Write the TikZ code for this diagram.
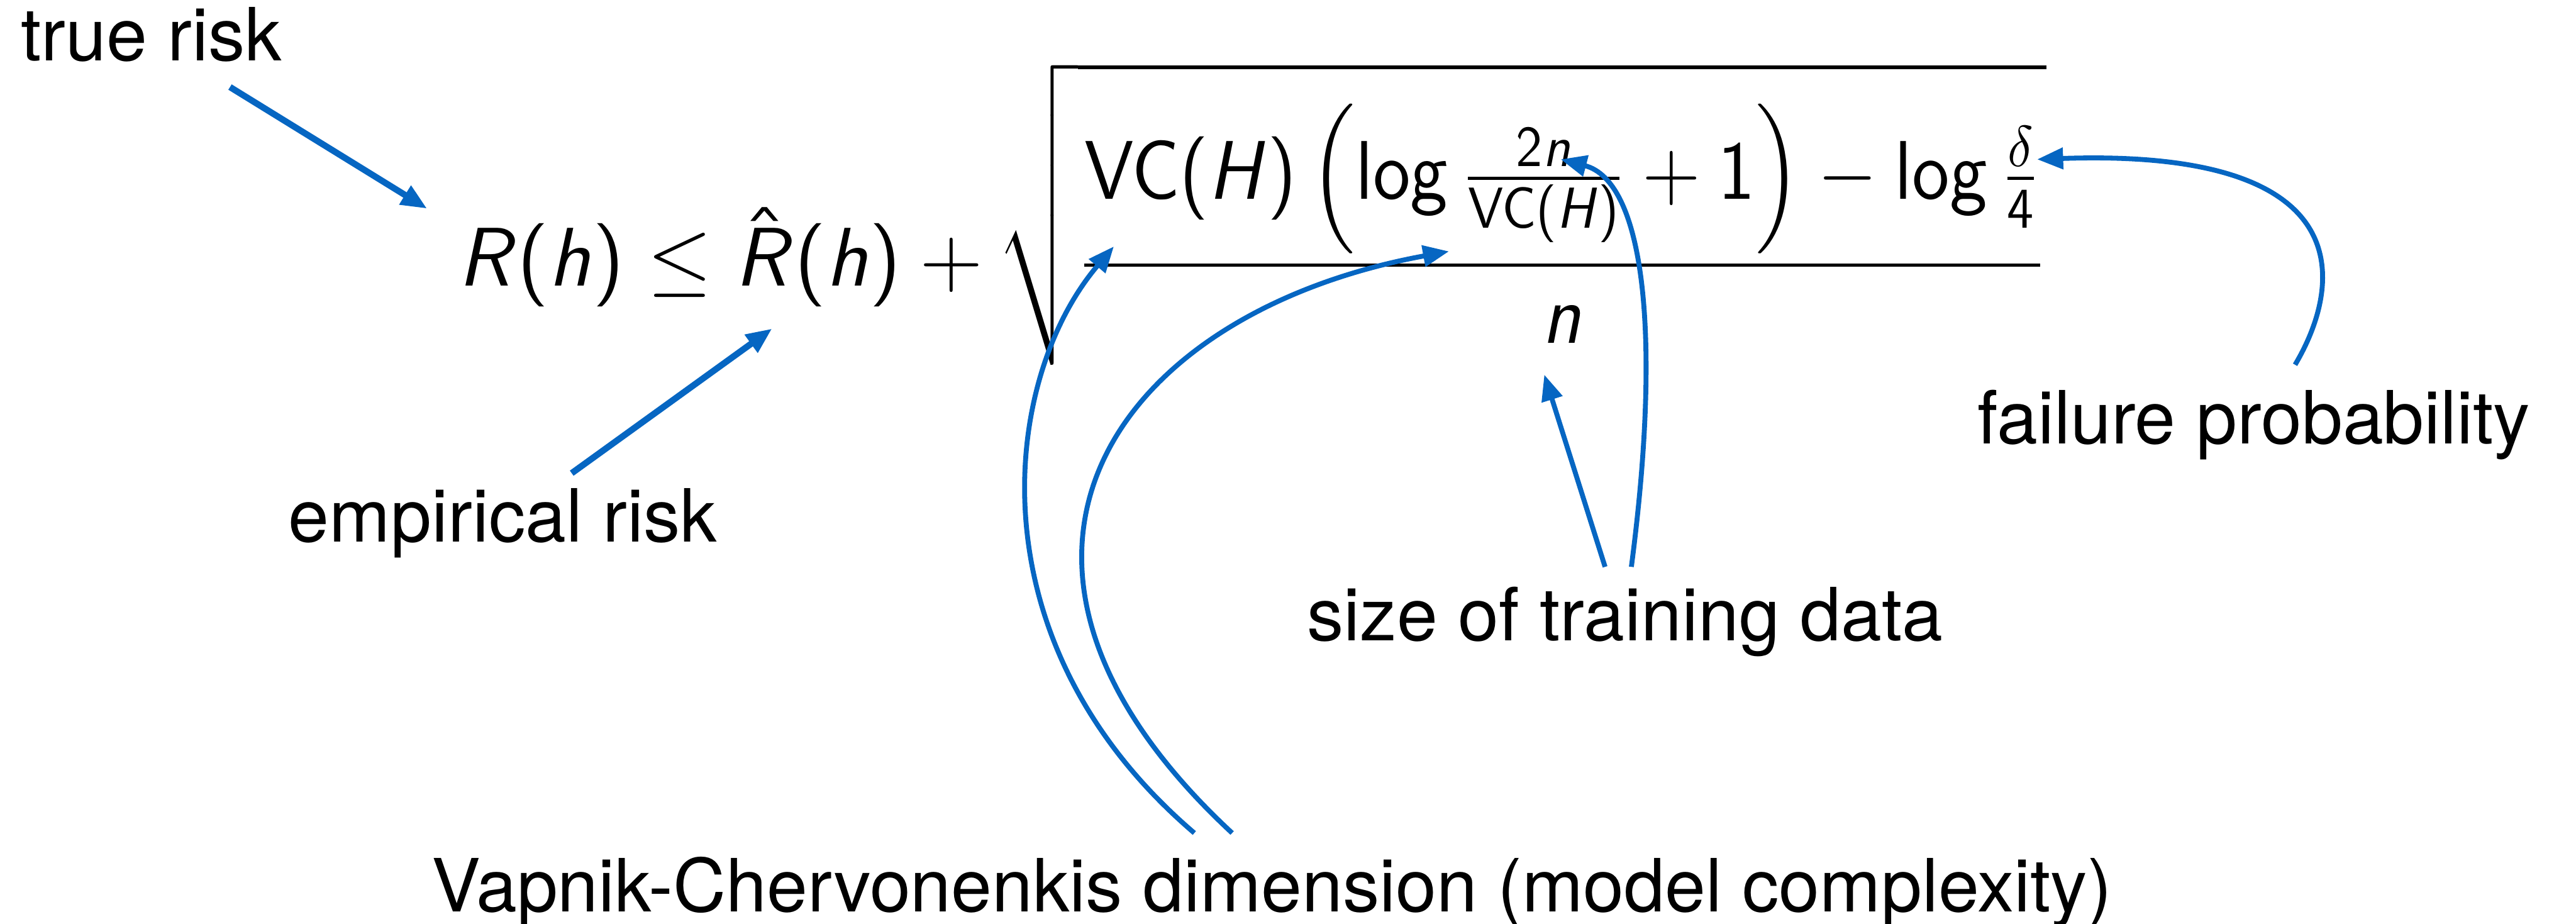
\documentclass[tikz,border=0pt]{standalone}
\usepackage{amsmath}
\usepackage{graphicx}
\usepackage[no-math]{fontspec}
\setmainfont{TeX Gyre Heros}
\DeclareSymbolFont{operators}{OT1}{cmss}{m}{n}
\DeclareMathAlphabet{\mathsi}{OT1}{cmss}{m}{sl}
\usetikzlibrary{arrows.meta}
\definecolor{arrowblue}{RGB}{6,102,194}
\newcommand\vcdim{\mathsf{VC}(\mathsi{H})}
\newcommand\vcroot{\scalebox{0.92}[1]{$\displaystyle\sqrt{\frac{\rule{0pt}{11pt}\vcdim\left(\log\frac{2\mathsi{n}}{\vcdim}+1\right)-\log\frac{\delta}{4}}{\mathsi{n}}}$}}
\newcommand\vcbound{$\displaystyle \mathsi{R}(\mathsi{h}) \leq \hat{\mathsi{R}}(\mathsi{h}) + \mkern-1mu\vcroot$}
\newcommand\mathpt{\fontsize{13.7}{17}\selectfont}
\newcommand\notept{\fontsize{12.7}{15}\selectfont}
\begin{document}
\begin{tikzpicture}[
  x=0.01cm, y=-0.01cm,
  note/.style={anchor=base west, inner sep=0pt, font=\notept},
  pointer/.style={draw=arrowblue, line width=0.85pt, -{Triangle[length=4.5pt,width=3.6pt]}},
  bigpointer/.style={pointer, line width=1.1pt}
]
  \useasboundingbox (0,0) rectangle (1568,562);
  \node[anchor=base west, inner sep=0pt, font=\mathpt] (bound) at (278,174) {\vcbound};
  \node[note] (truerisk) at (12,37) {true risk};
  \node[note] (emprisk) at (175,330) {empirical risk};
  \node[note] (failprob) at (1203,270) {failure probability};
  \node[note] (datasize) at (795,390) {size of training data};
  \node[note] (vcdimlabel) at (262,555) {Vapnik-Chervonenkis dimension (model complexity)};
  \coordinate (truerisk-out) at (140,53);
  \coordinate (rh) at (260,127);
  \coordinate (emprisk-out) at (348,288);
  \coordinate (rhat) at (470,200);
  \coordinate (datasize-n) at (977,345);
  \coordinate (datasize-2n) at (993,345);
  \coordinate (ndenom) at (940,228);
  \coordinate (twon) at (950,97);
  \coordinate (failprob-out) at (1397,222);
  \coordinate (delta) at (1240,97);
  \coordinate (vcdim-a) at (727,507);
  \coordinate (vcdim-b) at (750,507);
  \coordinate (vcnum) at (678,150);
  \coordinate (vcinner) at (882,153);
  \draw[bigpointer] (truerisk-out) -- (rh);
  \draw[bigpointer] (emprisk-out) -- (rhat);
  \draw[pointer] (datasize-n) -- (ndenom);
  \draw[pointer] (datasize-2n) .. controls (1012,200) and (1000,110) .. (twon);
  \draw[pointer] (failprob-out) .. controls (1425,175) and (1440,90) .. (delta);
  \draw[pointer] (vcdim-a) .. controls (590,390) and (610,230) .. (vcnum);
  \draw[pointer] (vcdim-b) .. controls (570,340) and (680,190) .. (vcinner);
\end{tikzpicture}
\end{document}
